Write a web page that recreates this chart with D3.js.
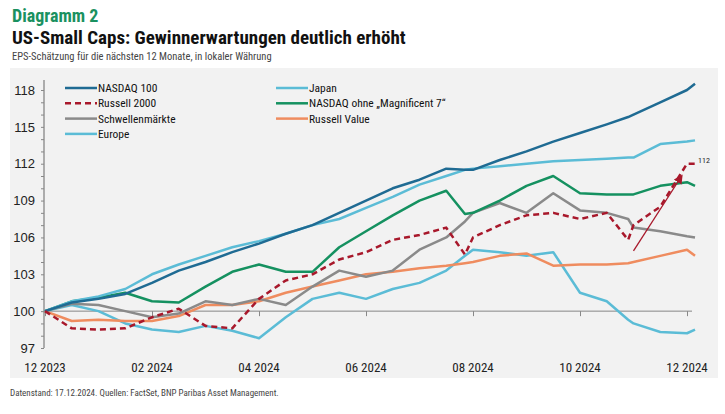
<!DOCTYPE html>
<html><head><meta charset="utf-8">
<script src="https://cdn.jsdelivr.net/npm/d3@7"></script>
<style>
body{margin:0;background:#fff;font-family:"Liberation Sans Narrow","Roboto Condensed","Liberation Sans",sans-serif;}
</style></head><body>
<svg id="c" width="725" height="414"></svg>
<script>
var months = [0,0.5,1,1.5,2,2.5,3,3.5,4,4.5,5,5.5,6,6.5,7,7.5,7.85,8,8.5,9,9.5,10,10.5,10.9,11,11.5,12,12.15];
var nasdaq100 = [100,100.7,101,101.4,102.3,103.3,104,104.8,105.5,106.3,107,108,109,110,110.7,111.6,111.5,111.5,112.3,113,113.8,114.5,115.2,115.8,116,117,118,118.5];
var europe = [100,100.8,101.2,101.8,103,103.8,104.5,105.2,105.7,106.3,107,107.5,108.4,109.3,110.3,111,111.5,111.6,111.8,112,112.2,112.3,112.4,112.5,112.5,113.6,113.8,113.9];
var japan = [100,100.5,100,99,98.5,98.3,98.8,98.4,97.8,99.5,101,101.5,101,101.8,102.3,103.3,104.5,105,104.8,104.5,104.8,101.5,100.8,99.3,99,98.3,98.2,98.5];
var nasdaqEx = [100,100.8,101.1,101.5,100.8,100.7,102,103.2,103.8,103.2,103.2,105.2,106.5,107.8,109,109.8,107.9,108,109,110.2,111,109.6,109.5,109.5,109.5,110.2,110.5,110.2];
var russell2000 = [100,98.6,98.5,98.6,99.5,100.2,98.8,98.6,101,102.5,103,104.2,104.8,105.8,106.2,106.8,104.6,106,107,107.8,108,107.5,108,105.8,107,108.5,112,112];
var emerging = [100,100.6,100.5,100,99.5,99.8,100.8,100.5,101,100.5,102,103.3,102.8,103.3,105,106,107.3,108,108.8,108,109.6,108.2,108,107.5,106.8,106.5,106.1,106];
var russellValue = [100,99.2,99.3,99.2,99.2,99.6,100.5,100.5,100.8,101.5,102,102.5,103,103.2,103.5,103.7,103.9,104,104.5,104.7,103.7,103.8,103.8,103.9,104,104.5,105,104.5];
var tickMonths = [0,2,4,6,8,10,12];
var tickLabels = ["12 2023","02 2024","04 2024","06 2024","08 2024","10 2024","12 2024"];
var yTicks = [97,100,103,106,109,112,115,118];

var series = [
  {name:"Japan", v:japan, c:"#5bbcd6", w:2.5},
  {name:"Russell Value", v:russellValue, c:"#ef8c5f", w:2.5},
  {name:"Schwellenmärkte", v:emerging, c:"#8a8a8a", w:2.5},
  {name:"NASDAQ ohne „Magnificent 7“", v:nasdaqEx, c:"#159160", w:2.5},
  {name:"Europe", v:europe, c:"#5bbcd6", w:2.5},
  {name:"NASDAQ 100", v:nasdaq100, c:"#1f6b93", w:2.5},
  {name:"Russell 2000", v:russell2000, c:"#a8182b", w:2.5, dash:"6,4"}
];

var svg = d3.select("#c");
svg.append("text").attr("x",12).attr("y",22).attr("fill","#1a9160").attr("font-size",18).attr("font-weight","bold").text("Diagramm 2");
svg.append("text").attr("x",12).attr("y",44).attr("fill","#111").attr("font-size",19).attr("font-weight","bold").text("US-Small Caps: Gewinnerwartungen deutlich erhöht");
svg.append("text").attr("x",12).attr("y",60).attr("fill","#444").attr("font-size",10.5).text("EPS-Schätzung für die nächsten 12 Monate, in lokaler Währung");
svg.append("rect").attr("x",10).attr("y",68).attr("width",708).attr("height",310).attr("fill","#f2f2f2");
svg.append("text").attr("x",10).attr("y",396).attr("fill","#444").attr("font-size",9).text("Datenstand: 17.12.2024.  Quellen: FactSet, BNP Paribas Asset Management.");

var x = d3.scaleLinear().domain([0,12]).range([45,687]);
var y = d3.scaleLinear().domain([97,118]).range([348,90]);

// y axis
var ya = svg.append("g").attr("transform","translate(44,0)")
  .call(d3.axisLeft(y).tickValues(d3.range(97,119)).tickSize(3).tickFormat(function(d){return yTicks.indexOf(d)>=0?d:"";}));
ya.select(".domain").attr("stroke","#666").attr("d","M0,80V348");
ya.selectAll(".tick line").attr("stroke","#888");
ya.selectAll("text").attr("font-size",13).attr("fill","#222").attr("x",-9).attr("font-family","inherit");

// baseline at 100 with month ticks
var xa = svg.append("g").attr("transform","translate(0,"+y(100)+")")
  .call(d3.axisBottom(x).tickValues(tickMonths).tickSize(5).tickFormat(""));
xa.select(".domain").attr("stroke","#888").attr("d","M44,0H692");
xa.selectAll(".tick line").attr("stroke","#888");
svg.append("g").selectAll("text").data(tickMonths).join("text")
  .attr("x",function(d){return x(d);}).attr("y",372).attr("text-anchor","middle")
  .attr("font-size",13).attr("fill","#222").text(function(d,i){return tickLabels[i];});

var line = d3.line().x(function(d,i){return x(months[i]);}).y(function(d){return y(d);});
svg.append("g").selectAll("path").data(series).join("path")
  .attr("d",function(s){return line(s.v);}).attr("fill","none")
  .attr("stroke",function(s){return s.c;}).attr("stroke-width",function(s){return s.w;})
  .attr("stroke-dasharray",function(s){return s.dash||null;}).attr("stroke-linejoin","round");

// arrow
svg.append("defs").append("marker").attr("id","ah").attr("viewBox","0 0 10 10").attr("refX",8).attr("refY",5)
  .attr("markerWidth",7).attr("markerHeight",7).attr("orient","auto")
  .append("path").attr("d","M0,0L10,5L0,10z").attr("fill","#a8182b");
svg.append("line").attr("x1",x(11.0)).attr("y1",y(104.9)).attr("x2",x(11.9)).attr("y2",y(111))
  .attr("stroke","#a8182b").attr("stroke-width",1.3).attr("marker-end","url(#ah)");
svg.append("text").attr("x",698).attr("y",y(112.3)+3).attr("font-size",8).attr("fill","#222").text("112");

// legend
var leg = [
  {name:"NASDAQ 100",c:"#1f6b93",col:0,row:0},
  {name:"Russell 2000",c:"#a8182b",col:0,row:1,dash:"6,4"},
  {name:"Schwellenmärkte",c:"#8a8a8a",col:0,row:2},
  {name:"Europe",c:"#5bbcd6",col:0,row:3},
  {name:"Japan",c:"#5bbcd6",col:1,row:0},
  {name:"NASDAQ ohne „Magnificent 7“",c:"#159160",col:1,row:1},
  {name:"Russell Value",c:"#ef8c5f",col:1,row:2}
];
var lg = svg.append("g").selectAll("g").data(leg).join("g")
  .attr("transform",function(d){return "translate("+(d.col?276:65)+","+(88+d.row*15.3)+")";});
lg.append("line").attr("x1",0).attr("x2",32).attr("stroke",function(d){return d.c;}).attr("stroke-width",2.5)
  .attr("stroke-dasharray",function(d){return d.dash||null;});
lg.append("text").attr("x",33).attr("y",4).attr("font-size",11.5).attr("fill","#111").text(function(d){return d.name;});
</script>
</body></html>
